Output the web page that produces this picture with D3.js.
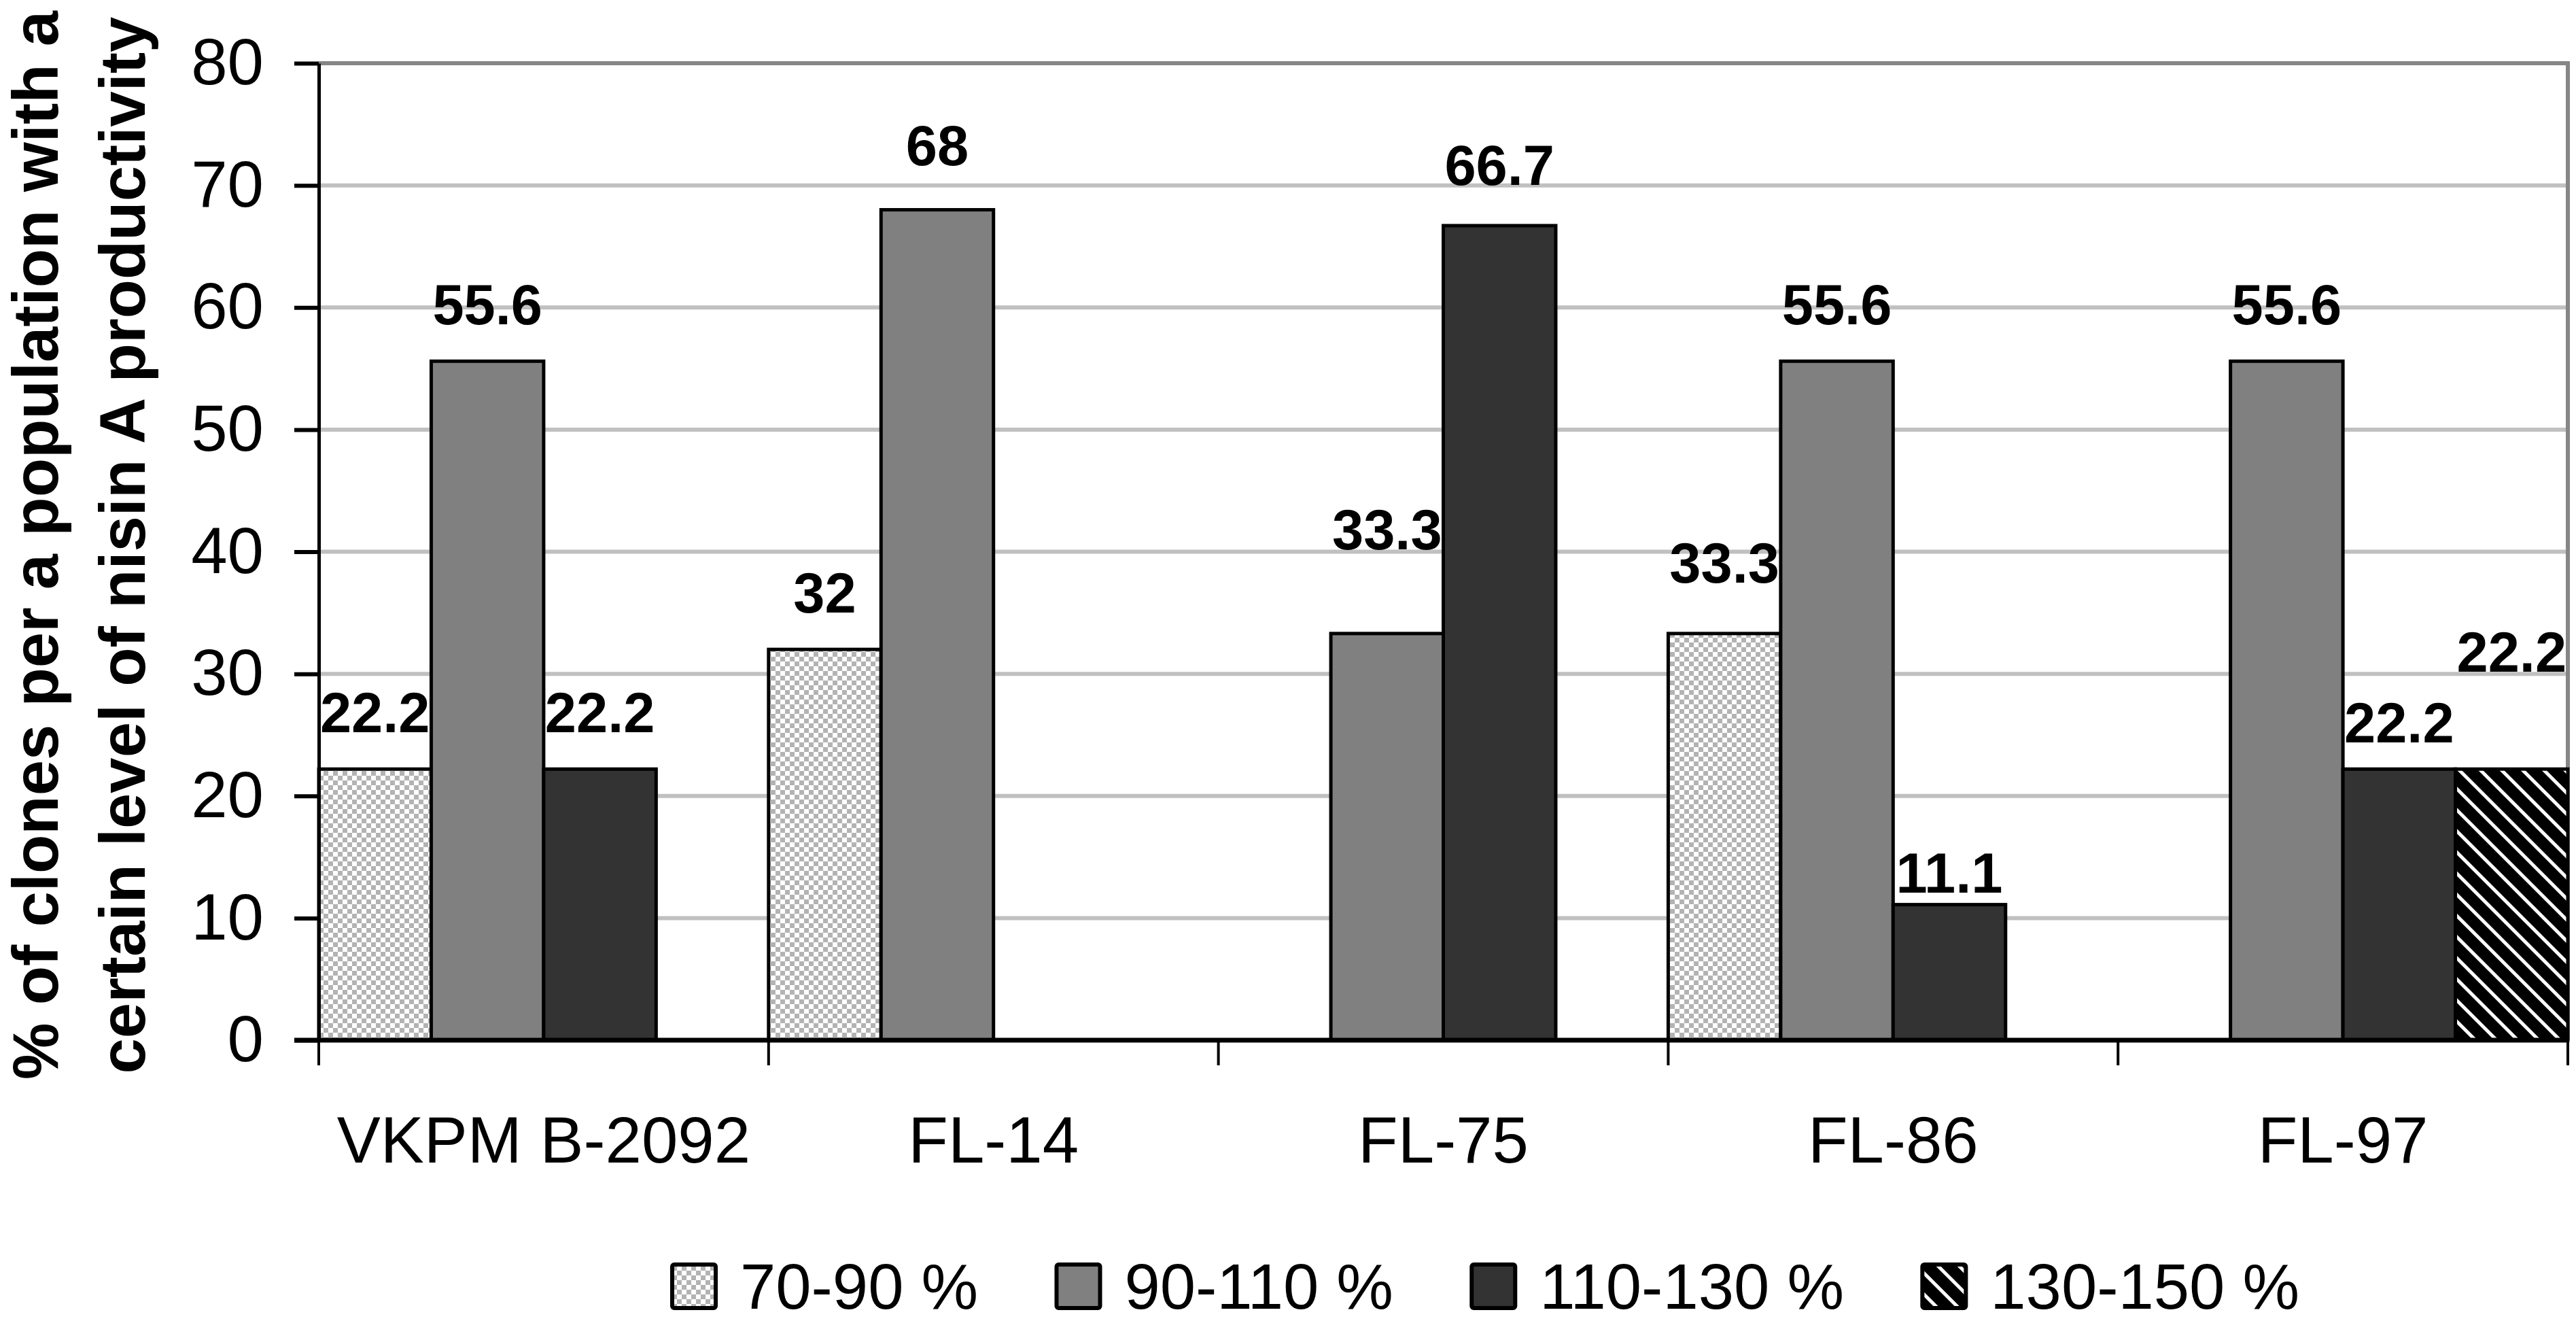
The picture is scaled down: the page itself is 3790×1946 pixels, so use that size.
<!DOCTYPE html>
<html>
<head>
<meta charset="utf-8">
<script src="https://cdn.jsdelivr.net/npm/d3@7"></script>
<style>
  html, body { margin: 0; padding: 0; background: #fff; }
  svg { display: block; font-family: "Liberation Sans", Arial, sans-serif; }
</style>
</head>
<body>
<div id="chart"></div>
<script>
// ── Data ───────────────────────────────────────────────────────────────────
var categories = ['VKPM B-2092', 'FL-14', 'FL-75', 'FL-86', 'FL-97'];
var seriesNames = ['70-90 %', '90-110 %', '110-130 %', '130-150 %'];
var s70to90   = [22.2, 32,   null, 33.3, null];
var s90to110  = [55.6, 68,   33.3, 55.6, 55.6];
var s110to130 = [22.2, null, 66.7, 11.1, 22.2];
var s130to150 = [null, null, null, null, 22.2];
var yTicks = [0, 10, 20, 30, 40, 50, 60, 70, 80];
var yTitle = ['% of clones per a population with a', 'certain level of nisin A productivity'];

var seriesValues = [s70to90, s90to110, s110to130, s130to150];

// ── Layout ─────────────────────────────────────────────────────────────────
var W = 3790, H = 1946;
var plot = { left: 469, right: 3778, top: 93, bottom: 1530 };

// label centre height above bar top (px); a few were moved by hand in the original
var defaultLift = 84;
var labelLift = {
  'FL-14|90-110 %': 96,
  'FL-75|90-110 %': 154,
  'FL-75|110-130 %': 90,
  'FL-86|70-90 %': 105,
  'FL-86|110-130 %': 48,
  'FL-97|110-130 %': 69,
  'FL-97|130-150 %': 173
};

var svg = d3.select('#chart').append('svg')
  .attr('width', W).attr('height', H);

// ── Patterns ───────────────────────────────────────────────────────────────
var defs = svg.append('defs');

var checker = defs.append('pattern')
  .attr('id', 'checker').attr('patternUnits', 'userSpaceOnUse')
  .attr('width', 14).attr('height', 14);
checker.append('rect').attr('width', 14).attr('height', 14).attr('fill', '#fff');
checker.append('rect').attr('width', 7).attr('height', 7).attr('fill', '#b3b3b3');
checker.append('rect').attr('x', 7).attr('y', 7).attr('width', 7).attr('height', 7).attr('fill', '#b3b3b3');

var stripes = defs.append('pattern')
  .attr('id', 'stripes').attr('patternUnits', 'userSpaceOnUse')
  .attr('width', 22).attr('height', 22)
  .attr('patternTransform', 'rotate(45)');
stripes.append('rect').attr('width', 22).attr('height', 22).attr('fill', '#000');
stripes.append('rect').attr('y', 0).attr('width', 22).attr('height', 5).attr('fill', '#fff');

var fills = ['url(#checker)', '#808080', '#333333', 'url(#stripes)'];

// ── Scales ─────────────────────────────────────────────────────────────────
var x0 = d3.scaleBand().domain(categories).range([plot.left, plot.right]).padding(0);
var x1 = d3.scaleBand().domain(seriesNames).range([0, x0.bandwidth()]).padding(0);
var y = d3.scaleLinear().domain([0, 80]).range([plot.bottom, plot.top]);

// ── Grid + plot frame ──────────────────────────────────────────────────────
svg.append('g').selectAll('line')
  .data(yTicks.filter(function(t) { return t > 0; }))
  .join('line')
  .attr('x1', plot.left).attr('x2', plot.right)
  .attr('y1', function(d) { return y(d); }).attr('y2', function(d) { return y(d); })
  .attr('stroke', function(d) { return d === 80 ? '#868686' : '#c0c0c0'; })
  .attr('stroke-width', 6);

svg.append('line')
  .attr('x1', plot.right).attr('x2', plot.right)
  .attr('y1', plot.top - 3).attr('y2', plot.bottom)
  .attr('stroke', '#868686').attr('stroke-width', 6);

// ── Bars ───────────────────────────────────────────────────────────────────
var barData = [];
categories.forEach(function(c, ci) {
  seriesNames.forEach(function(s, si) {
    var v = seriesValues[si][ci];
    if (v !== null) barData.push({ cat: c, series: s, si: si, value: v });
  });
});

svg.append('g').selectAll('rect')
  .data(barData)
  .join('rect')
  .attr('x', function(d) { return x0(d.cat) + x1(d.series); })
  .attr('y', function(d) { return y(d.value); })
  .attr('width', x1.bandwidth())
  .attr('height', function(d) { return y(0) - y(d.value); })
  .attr('fill', function(d) { return fills[d.si]; })
  .attr('stroke', '#000')
  .attr('stroke-width', 5);

// value labels
svg.append('g').selectAll('text')
  .data(barData)
  .join('text')
  .attr('x', function(d) { return x0(d.cat) + x1(d.series) + x1.bandwidth() / 2; })
  .attr('y', function(d) {
    var lift = labelLift[d.cat + '|' + d.series] || defaultLift;
    return y(d.value) - lift + 30;
  })
  .attr('text-anchor', 'middle')
  .attr('font-size', 83)
  .attr('font-weight', 'bold')
  .text(function(d) { return String(d.value); });

// ── Axes ───────────────────────────────────────────────────────────────────
var yAxis = svg.append('g')
  .attr('transform', 'translate(' + plot.left + ',0)')
  .call(d3.axisLeft(y).tickValues(yTicks).tickSize(36).tickSizeOuter(0).tickPadding(45));
yAxis.select('.domain').attr('stroke', '#000').attr('stroke-width', 5);
yAxis.selectAll('.tick line').attr('stroke', '#000').attr('stroke-width', 6);
yAxis.selectAll('.tick text')
  .attr('font-size', 96).attr('font-family', '"Liberation Sans", Arial, sans-serif')
  .attr('fill', '#000');

var xAxis = svg.append('g')
  .attr('transform', 'translate(0,' + plot.bottom + ')')
  .call(d3.axisBottom(x0).tickSize(0).tickPadding(112));
xAxis.select('.domain').remove();
xAxis.selectAll('.tick text')
  .attr('font-size', 96).attr('font-family', '"Liberation Sans", Arial, sans-serif')
  .attr('fill', '#000');

svg.append('line')
  .attr('x1', plot.left - 36).attr('x2', plot.right + 2)
  .attr('y1', plot.bottom).attr('y2', plot.bottom)
  .attr('stroke', '#000').attr('stroke-width', 7);

var bounds = categories.map(function(c) { return x0(c); }).concat([plot.right]);
svg.append('g').selectAll('line')
  .data(bounds)
  .join('line')
  .attr('x1', function(d) { return d; }).attr('x2', function(d) { return d; })
  .attr('y1', plot.bottom).attr('y2', plot.bottom + 37)
  .attr('stroke', '#000').attr('stroke-width', 4);

// y title (two lines, rotated)
svg.append('g').selectAll('text')
  .data(yTitle)
  .join('text')
  .attr('transform', function(d, i) { return 'translate(' + (85 + i * 128) + ',802) rotate(-90)'; })
  .attr('text-anchor', 'middle')
  .attr('font-size', 94)
  .attr('font-weight', 'bold')
  .text(function(d) { return d; });

// ── Legend ─────────────────────────────────────────────────────────────────
var legendStart = 989, legendEnd = 3383, box = 64, boxGap = 36;
var legend = svg.append('g');
var items = legend.selectAll('g')
  .data(seriesNames)
  .join('g');
items.append('rect')
  .attr('width', box).attr('height', box)
  .attr('y', 1860)
  .attr('rx', 3)
  .attr('fill', function(d, i) { return fills[i]; })
  .attr('stroke', '#000').attr('stroke-width', 6);
items.append('text')
  .attr('x', box + boxGap).attr('y', 1925)
  .attr('font-size', 94)
  .text(function(d) { return d; });

var widths = [];
items.select('text').each(function() { widths.push(this.getComputedTextLength()); });
var itemW = widths.map(function(w) { return box + boxGap + w; });
var gap = (legendEnd - legendStart - d3.sum(itemW)) / (seriesNames.length - 1);
var pos = legendStart;
items.each(function(d, i) {
  d3.select(this).attr('transform', 'translate(' + pos + ',0)');
  pos += itemW[i] + gap;
});
</script>
</body>
</html>
